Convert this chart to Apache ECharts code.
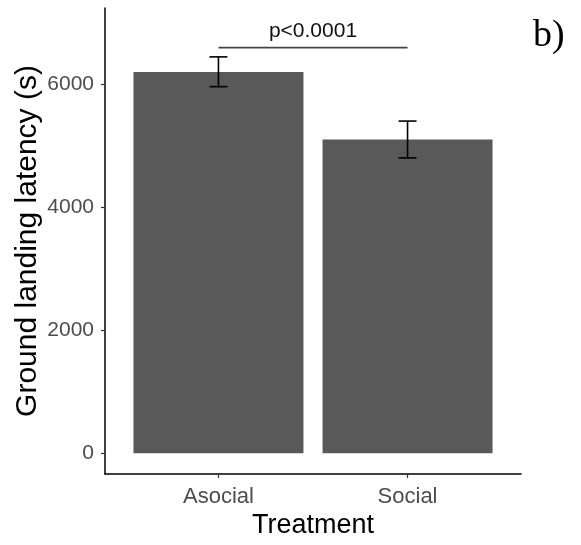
<!DOCTYPE html>
<html>
<head>
<meta charset="utf-8">
<script src="https://cdn.jsdelivr.net/npm/echarts@6/dist/echarts.min.js"></script>
<style>
html,body{margin:0;padding:0;background:#fff;}
#c{width:581px;height:545px;}
</style>
</head>
<body>
<div id="c"></div>
<script>
const categories = ['Asocial', 'Social'];
const categoryPos = [1, 2];
const means = [6196, 5097];
const errUpper = [6440, 5397];
const errLower = [5956, 4799];
const yTicks = [0, 2000, 4000, 6000];
const sigFrom = 1, sigTo = 2, sigLevel = 6590;
const sigText = 'p<0.0001';
const panelLabel = 'b)';

const barData = categoryPos.map((x, i) => [x, means[i]]);
const errData = categoryPos.map((x, i) => [x, errLower[i], errUpper[i]]);

const chart = echarts.init(document.getElementById('c'), null, {renderer: 'canvas'});
const font = 'Liberation Sans, Arial, sans-serif';

chart.setOption({
  animation: false,
  backgroundColor: '#ffffff',
  grid: {left: 105, right: 60, top: 8, bottom: 71, containLabel: false, outerBoundsMode: 'none'},
  xAxis: {
    type: 'value',
    min: 0.4, max: 2.6,
    name: 'Treatment',
    nameLocation: 'middle',
    nameGap: 38,
    nameMoveOverlap: false,
    nameTextStyle: {fontFamily: font, fontSize: 27, color: '#000'},
    axisLine: {show: true, onZero: false, lineStyle: {color: '#000', width: 1.5}},
    axisTick: {show: true, length: 4, customValues: categoryPos, lineStyle: {color: '#333', width: 1.2}},
    axisLabel: {
      customValues: categoryPos,
      margin: 12,
      fontFamily: font, fontSize: 22, color: '#4d4d4d',
      formatter: v => categories[categoryPos.indexOf(v)] || ''
    },
    splitLine: {show: false}
  },
  yAxis: {
    type: 'value',
    min: -337, max: 7234,
    name: 'Ground landing latency (s)',
    nameLocation: 'middle',
    nameGap: 62,
    nameMoveOverlap: false,
    nameRotate: 90,
    nameTextStyle: {fontFamily: font, fontSize: 30, color: '#000'},
    axisLine: {show: true, lineStyle: {color: '#000', width: 1.5}},
    axisTick: {show: true, length: 4, customValues: yTicks, lineStyle: {color: '#333', width: 1.2}},
    axisLabel: {customValues: yTicks, margin: 11, fontFamily: font, fontSize: 21, color: '#4d4d4d',
      formatter: v => String(v)},
    splitLine: {show: false}
  },
  series: [
    {
      type: 'bar',
      data: barData,
      barWidth: 170,
      itemStyle: {color: '#595959'}
    },
    {
      type: 'custom',
      data: errData,
      encode: {x: 0, y: [1, 2]},
      z: 5,
      renderItem: function (params, api) {
        const x = api.value(0), lo = api.value(1), hi = api.value(2);
        const pLo = api.coord([x, lo]);
        const pHi = api.coord([x, hi]);
        const hw = 9;
        const st = {stroke: '#000', lineWidth: 1.6};
        return {
          type: 'group',
          children: [
            {type: 'line', shape: {x1: pLo[0], y1: pLo[1], x2: pHi[0], y2: pHi[1]}, style: st},
            {type: 'line', shape: {x1: pLo[0] - hw, y1: pLo[1], x2: pLo[0] + hw, y2: pLo[1]}, style: st},
            {type: 'line', shape: {x1: pHi[0] - hw, y1: pHi[1], x2: pHi[0] + hw, y2: pHi[1]}, style: st}
          ]
        };
      }
    },
    {
      type: 'custom',
      data: [[sigFrom, sigTo, sigLevel]],
      encode: {x: [0, 1], y: 2},
      z: 5,
      renderItem: function (params, api) {
        const a = api.coord([api.value(0), api.value(2)]);
        const b = api.coord([api.value(1), api.value(2)]);
        return {
          type: 'group',
          children: [
            {type: 'line', shape: {x1: a[0], y1: a[1], x2: b[0], y2: b[1]}, style: {stroke: '#444', lineWidth: 1.6}},
            {type: 'text', style: {text: sigText, x: (a[0] + b[0]) / 2, y: a[1] - 6, align: 'center', verticalAlign: 'bottom', fontFamily: font, fontSize: 21, fill: '#111'}}
          ]
        };
      }
    }
  ],
  graphic: [
    {type: 'text', left: 533, top: 17, style: {text: panelLabel, fontFamily: 'Liberation Serif, Times New Roman, serif', fontSize: 38, fill: '#000'}}
  ]
});
</script>
</body>
</html>
